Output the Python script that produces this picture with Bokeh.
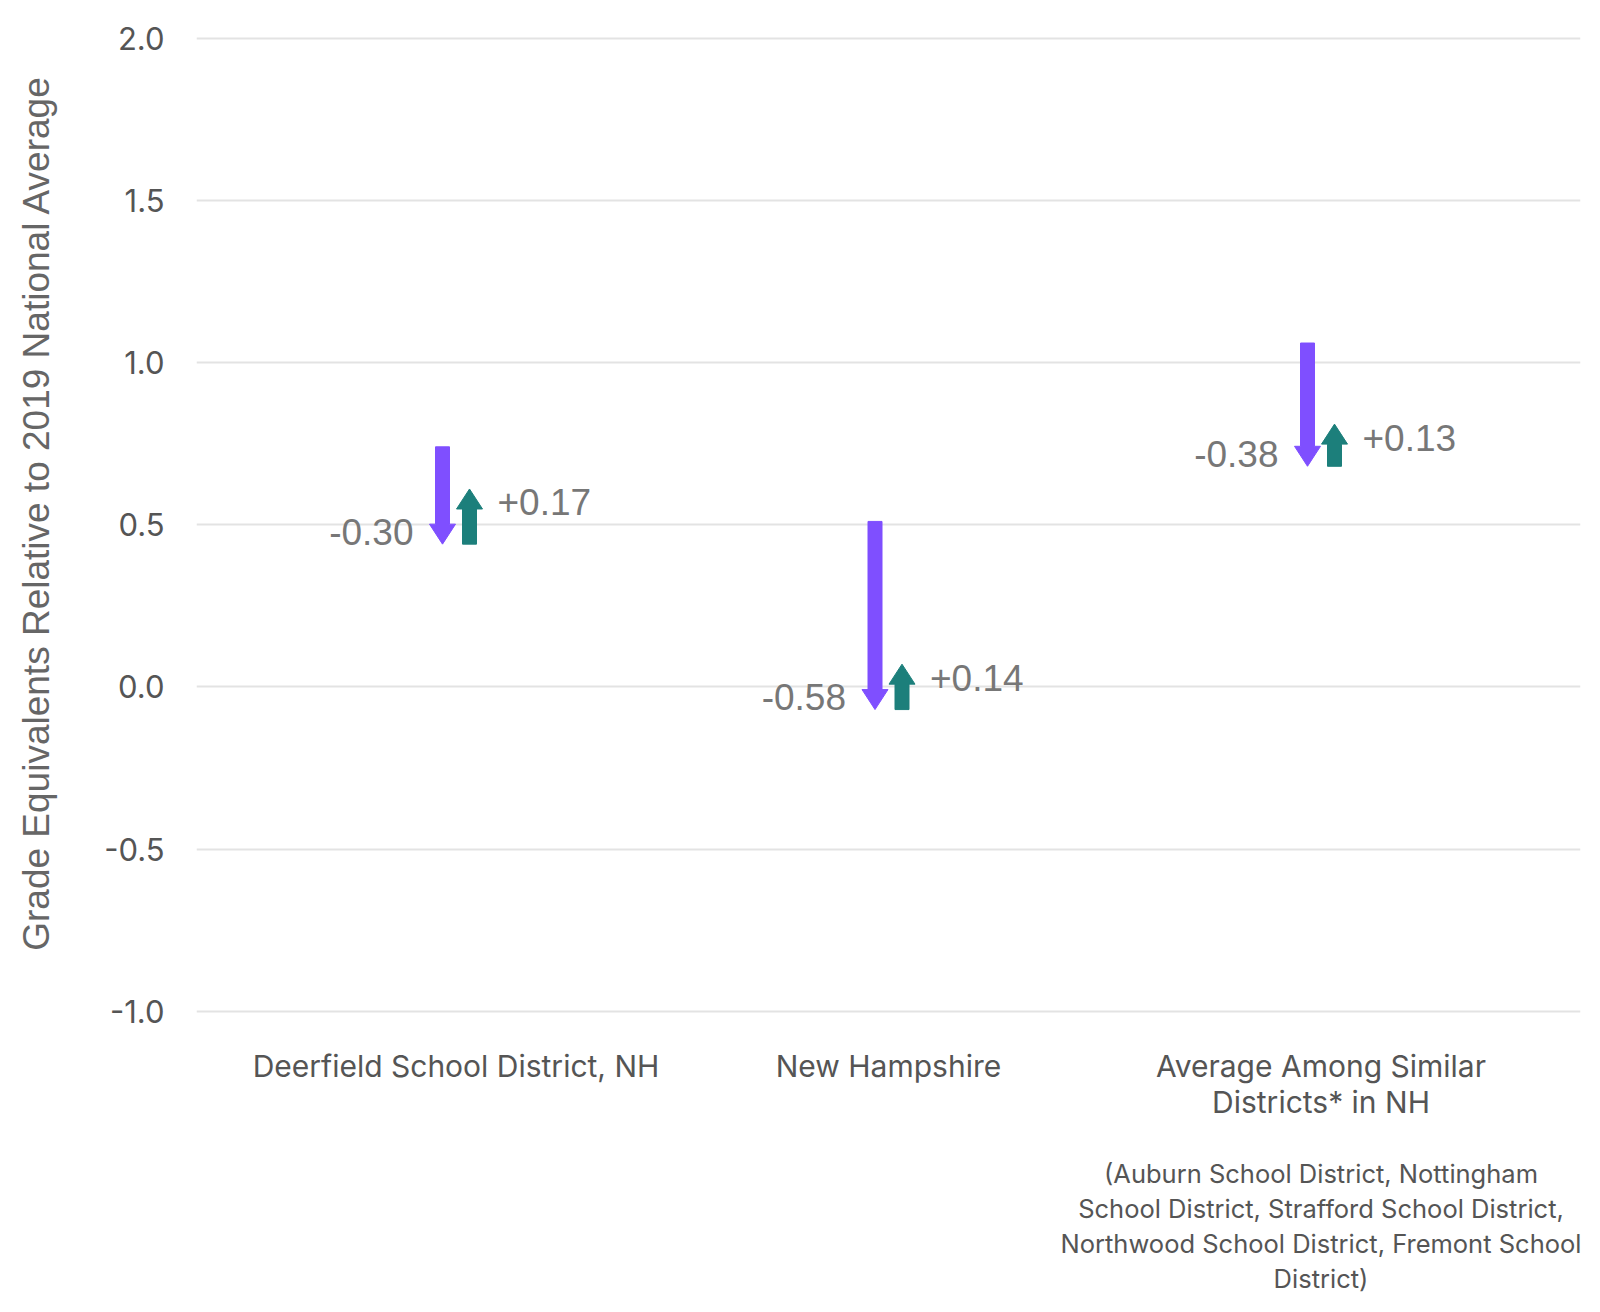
from bokeh.plotting import figure
from bokeh.models import (ColumnDataSource, FixedTicker, Range1d, NumeralTickFormatter,
                          LinearAxis, AllLabels)
from bokeh.embed import file_html
from bokeh.resources import INLINE
from bokeh.core.properties import value

# ---------------- data ----------------
categories = [
    "Deerfield School District, NH",
    "New Hampshire",
    "Average Among Similar\nDistricts* in NH",
]
note_lines = [
    "(Auburn School District, Nottingham",
    "School District, Strafford School District,",
    "Northwood School District, Fremont School",
    "District)",
]
start_values = [0.74, 0.51, 1.06]      # level before decline
decline = [-0.30, -0.58, -0.38]        # decline (purple arrow)
recovery = [0.17, 0.14, 0.13]          # recovery (teal arrow)
decline_labels = ["-0.30", "-0.58", "-0.38"]
recovery_labels = ["+0.17", "+0.14", "+0.13"]
y_ticks = [-1.0, -0.5, 0.0, 0.5, 1.0, 1.5, 2.0]
y_title = "Grade Equivalents Relative to 2019 National Average"

# ---------------- layout ----------------
W, H = 1584, 1296
B_L, B_R, B_T = 196, 4, 11
X0, X1 = -0.6, 2.6
Y0, Y1 = -1.01, 2.082
FRAME_W = W - B_L - B_R
FRAME_H = round((Y1 - Y0) * 324.4)
B_B = H - B_T - FRAME_H
PX_X = (X1 - X0) / FRAME_W
PX_Y = (Y1 - Y0) / FRAME_H

PURPLE = "#7F4FFF"
TEAL = "#1C7F7B"
LABEL_GREY = "#555555"
VALUE_GREY = "#777777"

SHAFT_W = 14 * PX_X
HEAD_W = 26 * PX_X
HEAD_H = 20 * PX_Y
ARROW_DX = 13.5 * PX_X
TEXT_LIFT = 12.5 * PX_Y

p = figure(width=W, height=H, x_range=Range1d(X0, X1), y_range=Range1d(Y0, Y1),
           output_backend="svg", toolbar_location=None, x_axis_location=None,
           min_border_left=B_L, min_border_right=B_R, min_border_top=B_T,
           min_border_bottom=B_B)
p.outline_line_color = None
p.background_fill_color = "white"
p.border_fill_color = "white"
for g in p.xgrid:
    g.visible = False

yax = p.yaxis[0]
yax.ticker = FixedTicker(ticks=y_ticks)
yax.formatter = NumeralTickFormatter(format="0.0")
yax.axis_line_color = None
yax.major_tick_line_color = None
yax.minor_tick_line_color = None
yax.major_tick_out = 0
yax.major_label_standoff = 32
yax.major_label_text_font = "Inter"
yax.major_label_text_font_size = "31px"
yax.major_label_text_color = LABEL_GREY
yax.axis_label = y_title
yax.axis_label_text_font = "Liberation Sans"
yax.axis_label_text_font_size = "37px"
yax.axis_label_text_font_style = "normal"
yax.axis_label_text_color = "#666666"
yax.axis_label_standoff = 44

p.ygrid[0].grid_line_color = "#e3e3e3"
p.ygrid[0].grid_line_width = 2

# ---------------- category axis + note axis ----------------
cat_axis = LinearAxis(
    ticker=FixedTicker(ticks=list(range(len(categories)))),
    major_label_overrides={i: c for i, c in enumerate(categories)},
    major_label_policy=AllLabels(),
    axis_line_color=None, major_tick_line_color=None, minor_tick_line_color=None,
    major_tick_out=0, major_tick_in=0,
    major_label_standoff=33,
    major_label_text_font="Inter", major_label_text_font_size="30px",
    major_label_text_color=LABEL_GREY, major_label_text_line_height=1.005,
)
p.add_layout(cat_axis, "below")

note_axis = LinearAxis(
    ticker=FixedTicker(ticks=[len(categories) - 1]),
    major_label_overrides={len(categories) - 1: "\n".join(note_lines)},
    major_label_policy=AllLabels(),
    axis_line_color=None, major_tick_line_color=None, minor_tick_line_color=None,
    major_tick_out=0, major_tick_in=0,
    major_label_standoff=35,
    major_label_text_font="Inter", major_label_text_font_size="25.5px",
    major_label_text_color=LABEL_GREY, major_label_text_line_height=1.13,
)
p.add_layout(note_axis, "below")

# ---------------- arrows ----------------
xs, ys, cols = [], [], []
lab_p = dict(x=[], y=[], text=[])
lab_g = dict(x=[], y=[], text=[])
for i, (s, d, r) in enumerate(zip(start_values, decline, recovery)):
    end = s + d
    tip = end + r
    # purple arrow (decline, pointing down)
    cx = i - ARROW_DX
    xs.append([cx - SHAFT_W / 2, cx + SHAFT_W / 2, cx + SHAFT_W / 2, cx + HEAD_W / 2,
               cx, cx - HEAD_W / 2, cx - SHAFT_W / 2])
    ys.append([s, s, end + HEAD_H, end + HEAD_H, end, end + HEAD_H, end + HEAD_H])
    cols.append(PURPLE)
    lab_p["x"].append(cx - 29 * PX_X)
    lab_p["y"].append(end + TEXT_LIFT)
    lab_p["text"].append(decline_labels[i])
    # teal arrow (recovery, pointing up)
    cx = i + ARROW_DX
    xs.append([cx - SHAFT_W / 2, cx + SHAFT_W / 2, cx + SHAFT_W / 2, cx + HEAD_W / 2,
               cx, cx - HEAD_W / 2, cx - SHAFT_W / 2])
    ys.append([end, end, tip - HEAD_H, tip - HEAD_H, tip, tip - HEAD_H, tip - HEAD_H])
    cols.append(TEAL)
    lab_g["x"].append(cx + 28 * PX_X)
    lab_g["y"].append(tip - 26 * PX_Y + TEXT_LIFT)
    lab_g["text"].append(recovery_labels[i])

p.patches(xs="xs", ys="ys", fill_color="c", line_color="c", line_width=1,
          source=ColumnDataSource(dict(xs=xs, ys=ys, c=cols)))
p.text(x="x", y="y", text="text", source=ColumnDataSource(lab_p),
       text_font=value("Liberation Sans"), text_font_size="37px", text_color=VALUE_GREY,
       text_align="right", text_baseline="alphabetic")
p.text(x="x", y="y", text="text", source=ColumnDataSource(lab_g),
       text_font=value("Liberation Sans"), text_font_size="37px", text_color=VALUE_GREY,
       text_align="left", text_baseline="alphabetic")

open("out.html", "w").write(file_html(p, INLINE))
